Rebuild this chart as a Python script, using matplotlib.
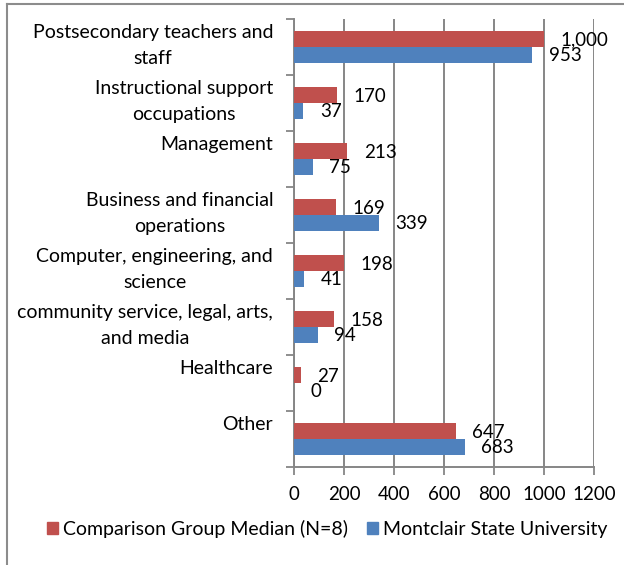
import matplotlib.pyplot as plt
from matplotlib.lines import Line2D
from matplotlib.patches import Patch
import numpy as np

categories = ["Postsecondary teachers and\nstaff",
              "Instructional support\noccupations",
              "Management",
              "Business and financial\noperations",
              "Computer, engineering, and\nscience",
              "community service, legal, arts,\nand media",
              "Healthcare",
              "Other"]
comparison = [1000, 170, 213, 169, 198, 158, 27, 647]
montclair = [953, 37, 75, 339, 41, 94, 0, 683]
series_names = ["Comparison Group Median (N=8)", "Montclair State University"]
x_ticks = [0, 200, 400, 600, 800, 1000, 1200]

RED = "#C0504D"
BLUE = "#4F81BD"
GRID = "#868686"

plt.rcParams['font.family'] = ['Lato', 'DejaVu Sans']

fig = plt.figure(figsize=(6.24, 5.65), dpi=100)
ax = fig.add_axes([294 / 624, 1 - 467 / 565, 300 / 624, 448 / 565])

y = np.arange(len(categories))
h = 0.28
ax.barh(y - h / 2, comparison, height=h, color=RED, zorder=3)
ax.barh(y + h / 2, montclair, height=h, color=BLUE, zorder=3)

for i in range(len(categories)):
    ax.annotate(f"{comparison[i]:,}", (comparison[i], y[i] - h / 2 + 0.02),
                xytext=(12, 0), textcoords='offset points',
                va='center', ha='left', fontsize=13.5)
    ax.annotate(f"{montclair[i]:,}", (montclair[i], y[i] + h / 2 + 0.02),
                xytext=(12, 0), textcoords='offset points',
                va='center', ha='left', fontsize=13.5)

ax.set_xlim(0, 1200)
ax.set_ylim(len(categories) - 0.5, -0.5)
ax.set_xticks(x_ticks)
ax.set_xticklabels([str(t) for t in x_ticks], fontsize=13.5)
ax.tick_params(axis='x', length=6, width=1.3, color=GRID, pad=8)
ax.grid(axis='x', color=GRID, linewidth=1.4, zorder=0)

# category labels: Excel puts single-line labels on the top row of two
ax.set_yticks(y)
ax.set_yticklabels([])
ax.tick_params(axis='y', which='major', length=0)
for i, c in enumerate(categories):
    ax.annotate(c if "\n" in c else c + "\n ", (0, y[i]),
                xycoords=('axes fraction', 'data'),
                xytext=(-15, 1), textcoords='offset points',
                ha='right', va='center', multialignment='center',
                linespacing=1.6, fontsize=14)
ax.set_yticks(np.arange(len(categories) + 1) - 0.5, minor=True)
ax.tick_params(axis='y', which='minor', length=6, width=1.3, color=GRID)

for s in ['top', 'right']:
    ax.spines[s].set_visible(False)
for s in ['left', 'bottom']:
    ax.spines[s].set_color(GRID)
    ax.spines[s].set_linewidth(1.4)

handles = [Patch(color=RED), Patch(color=BLUE)]
fig.legend(handles, series_names, loc='center', bbox_to_anchor=(327 / 624, 1 - 529 / 565),
           ncol=2, frameon=False, fontsize=14, handlelength=0.55, handleheight=0.55,
           handletextpad=0.25, columnspacing=1.0)

# outer chart border (top and left visible)
fig.add_artist(Line2D([7 / 624, 7 / 624], [0, 1 - 4 / 565], color="#8C8C8C", lw=1.5))
fig.add_artist(Line2D([7 / 624, 1], [1 - 4 / 565, 1 - 4 / 565], color="#8C8C8C", lw=1.5))

fig.savefig("out.png", dpi=100)
